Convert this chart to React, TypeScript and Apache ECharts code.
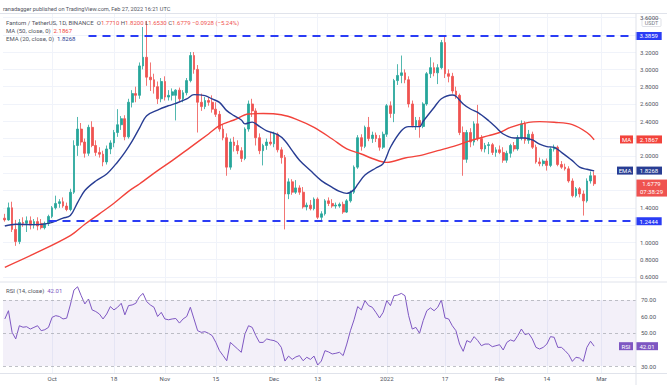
import { useEffect, useRef } from 'react';
import * as echarts from 'echarts';

const FONT = "Roboto, 'Noto Sans', 'DejaVu Sans', sans-serif";
const TEXT = '#50535e';
const UP = '#26a69a';
const DOWN = '#ef5350';
const MA_RED = '#f2433b';
const EMA_BLUE = '#283d93';
const RAY_BLUE = '#2a3cf5';
const RSI_PURPLE = '#7e57c2';
const GRID = '#f0f3fa';
const BORDER = '#e0e3eb';

// one category per day; the axis runs past the last candle into March (right padding)
const firstDay = '2021-09-18';
const dayCount = 174;

// FTM/USDT daily candles [open, high, low, close], 2021-09-18 .. 2022-02-27
const ohlc: [number, number, number, number][] = [
  [1.28, 1.33, 1.24, 1.26], [1.26, 1.46, 1.25, 1.40], [1.40, 1.47, 1.12, 1.15], [1.15, 1.26, 0.96, 1.01],
  [1.01, 1.27, 0.98, 1.23], [1.23, 1.29, 1.18, 1.22], [1.22, 1.30, 1.12, 1.25], [1.25, 1.30, 1.15, 1.20],
  [1.20, 1.27, 1.16, 1.24], [1.24, 1.29, 1.14, 1.19], [1.22, 1.27, 1.15, 1.17], [1.17, 1.24, 1.15, 1.22],
  [1.22, 1.32, 1.19, 1.30], [1.30, 1.42, 1.28, 1.40], [1.40, 1.54, 1.38, 1.45], [1.45, 1.50, 1.40, 1.47],
  [1.47, 1.52, 1.40, 1.42], [1.42, 1.46, 1.36, 1.38], [1.38, 1.62, 1.36, 1.58], [1.58, 2.18, 1.56, 2.12],
  [2.12, 2.45, 2.00, 2.31], [2.31, 2.38, 2.12, 2.16], [2.16, 2.20, 1.98, 2.03], [2.03, 2.36, 2.00, 2.33],
  [2.33, 2.40, 2.10, 2.12], [2.12, 2.18, 2.00, 2.04], [2.04, 2.10, 1.98, 2.02], [2.02, 2.06, 1.88, 1.93],
  [1.93, 2.12, 1.90, 2.08], [2.08, 2.18, 2.02, 2.15], [2.15, 2.30, 2.10, 2.27], [2.27, 2.54, 2.22, 2.36],
  [2.36, 2.46, 2.30, 2.43], [2.43, 2.47, 2.18, 2.22], [2.22, 2.66, 2.20, 2.62], [2.62, 2.76, 2.56, 2.72],
  [2.72, 2.80, 2.62, 2.70], [2.70, 3.08, 2.66, 3.04], [3.04, 3.49, 3.00, 3.14], [3.14, 3.56, 2.81, 2.91],
  [2.91, 3.08, 2.75, 2.88], [2.88, 2.95, 2.72, 2.80], [2.80, 2.86, 2.60, 2.66], [2.66, 2.90, 2.62, 2.86],
  [2.86, 2.92, 2.64, 2.68], [2.68, 2.76, 2.64, 2.70], [2.70, 2.78, 2.64, 2.74], [2.70, 2.77, 2.41, 2.76],
  [2.76, 2.79, 2.62, 2.66], [2.66, 2.76, 2.62, 2.73], [2.73, 2.90, 2.70, 2.87], [2.87, 3.20, 2.85, 3.16],
  [3.16, 3.20, 2.95, 3.00], [3.00, 3.05, 2.27, 2.62], [2.62, 2.72, 2.52, 2.57], [2.57, 2.68, 2.54, 2.64],
  [2.64, 2.68, 2.58, 2.62], [2.62, 2.70, 2.50, 2.54], [2.54, 2.62, 2.45, 2.48], [2.48, 2.52, 2.28, 2.31],
  [2.31, 2.36, 2.18, 2.21], [2.21, 2.26, 1.77, 1.87], [1.87, 2.20, 1.84, 2.16], [2.16, 2.22, 2.05, 2.12],
  [2.12, 2.18, 2.02, 2.06], [2.06, 2.10, 1.93, 1.97], [1.97, 2.33, 1.95, 2.31], [2.31, 2.64, 2.28, 2.60],
  [2.60, 2.66, 2.45, 2.52], [2.52, 2.55, 2.12, 2.21], [2.21, 2.26, 2.02, 2.06], [2.06, 2.14, 1.89, 2.12],
  [2.12, 2.20, 2.07, 2.16], [2.16, 2.27, 2.12, 2.14], [2.14, 2.28, 2.10, 2.25], [2.25, 2.27, 2.04, 2.07],
  [2.07, 2.10, 1.91, 1.98], [1.98, 2.01, 1.15, 1.56], [1.56, 1.74, 1.50, 1.70], [1.70, 1.73, 1.55, 1.58],
  [1.58, 1.72, 1.56, 1.63], [1.63, 1.66, 1.55, 1.58], [1.58, 1.64, 1.39, 1.41], [1.41, 1.46, 1.37, 1.43],
  [1.43, 1.49, 1.37, 1.39], [1.39, 1.52, 1.37, 1.50], [1.50, 1.52, 1.27, 1.29], [1.29, 1.36, 1.25, 1.33],
  [1.33, 1.50, 1.31, 1.48], [1.48, 1.52, 1.42, 1.45], [1.45, 1.50, 1.40, 1.42], [1.42, 1.46, 1.39, 1.43],
  [1.42, 1.46, 1.40, 1.44], [1.44, 1.47, 1.33, 1.35], [1.35, 1.50, 1.34, 1.48], [1.48, 1.60, 1.46, 1.58],
  [1.58, 1.89, 1.56, 1.87], [1.87, 2.24, 1.85, 2.21], [2.21, 2.25, 2.06, 2.11], [2.11, 2.35, 2.09, 2.33],
  [2.33, 2.45, 2.17, 2.20], [2.20, 2.28, 2.15, 2.24], [2.24, 2.27, 2.16, 2.20], [2.20, 2.24, 2.06, 2.10],
  [2.10, 2.28, 2.08, 2.25], [2.25, 2.60, 2.22, 2.58], [2.58, 2.63, 2.44, 2.49], [2.49, 2.89, 2.39, 2.87],
  [2.87, 3.06, 2.82, 2.93], [2.93, 3.16, 2.84, 2.96], [2.96, 3.00, 2.84, 2.88], [2.88, 2.92, 2.56, 2.60],
  [2.60, 2.64, 2.33, 2.35], [2.35, 2.45, 2.30, 2.41], [2.41, 2.45, 2.21, 2.34], [2.34, 2.62, 2.32, 2.60],
  [2.60, 2.97, 2.58, 2.95], [2.95, 3.14, 2.90, 3.02], [3.02, 3.08, 2.92, 2.96], [2.96, 3.06, 2.83, 3.02],
  [3.02, 3.34, 3.00, 3.31], [3.31, 3.38, 2.90, 2.95], [2.95, 3.00, 2.85, 2.92], [2.92, 2.96, 2.72, 2.75],
  [2.75, 2.80, 2.66, 2.70], [2.70, 2.72, 2.24, 2.27], [2.27, 2.34, 1.77, 1.96], [1.96, 2.30, 1.92, 2.27],
  [2.27, 2.32, 2.10, 2.16], [2.16, 2.40, 2.12, 2.37], [2.37, 2.59, 2.17, 2.20], [2.20, 2.24, 2.05, 2.08],
  [2.08, 2.15, 2.04, 2.12], [2.12, 2.16, 2.02, 2.13], [2.13, 2.15, 2.01, 2.04], [2.04, 2.10, 1.99, 2.07],
  [2.07, 2.12, 2.02, 2.04], [2.04, 2.10, 1.92, 1.95], [1.95, 2.06, 1.92, 2.03], [2.03, 2.14, 1.98, 2.12],
  [2.12, 2.16, 2.05, 2.08], [2.08, 2.24, 2.06, 2.21], [2.21, 2.41, 2.18, 2.37], [2.37, 2.40, 2.14, 2.18],
  [2.18, 2.30, 2.14, 2.25], [2.25, 2.28, 2.08, 2.10], [2.10, 2.13, 1.91, 1.93], [1.93, 1.98, 1.88, 1.91],
  [1.91, 1.96, 1.88, 1.94], [1.94, 1.97, 1.83, 1.89], [1.89, 2.10, 1.87, 2.08], [2.08, 2.13, 2.05, 2.10],
  [2.10, 2.12, 1.88, 1.90], [1.90, 1.94, 1.85, 1.87], [1.87, 1.91, 1.83, 1.85], [1.85, 1.88, 1.69, 1.71],
  [1.71, 1.74, 1.52, 1.54], [1.54, 1.64, 1.52, 1.62], [1.62, 1.64, 1.52, 1.56], [1.56, 1.60, 1.31, 1.48],
  [1.48, 1.74, 1.46, 1.71], [1.71, 1.82, 1.68, 1.77], [1.771, 1.82, 1.653, 1.6779],
];

// MA (50, close)
const sma50Points: [string, number][] = [
  ['2021-09-18', 0.712], ['2021-09-26', 0.866], ['2021-10-06', 1.078], ['2021-10-10', 1.21],
  ['2021-10-14', 1.33], ['2021-10-18', 1.452], ['2021-10-22', 1.59], ['2021-10-25', 1.675],
  ['2021-10-30', 1.829], ['2021-11-03', 1.945], ['2021-11-08', 2.099], ['2021-11-13', 2.253],
  ['2021-11-16', 2.349], ['2021-11-20', 2.415], ['2021-11-24', 2.484], ['2021-11-28', 2.49],
  ['2021-12-03', 2.476], ['2021-12-07', 2.426], ['2021-12-12', 2.33], ['2021-12-17', 2.195],
  ['2021-12-21', 2.08], ['2021-12-25', 2.022], ['2021-12-28', 1.97], ['2022-01-01', 1.925],
  ['2022-01-06', 1.976], ['2022-01-10', 2.003], ['2022-01-15', 2.06], ['2022-01-20', 2.118],
  ['2022-01-24', 2.176], ['2022-01-29', 2.234], ['2022-02-01', 2.27], ['2022-02-04', 2.33],
  ['2022-02-09', 2.388], ['2022-02-12', 2.396], ['2022-02-16', 2.388], ['2022-02-21', 2.361],
  ['2022-02-25', 2.27], ['2022-02-27', 2.1867],
];

// EMA (20, close)
const ema20Points: [string, number][] = [
  ['2021-09-18', 1.19], ['2021-09-21', 1.21], ['2021-09-26', 1.205], ['2021-09-30', 1.22],
  ['2021-10-04', 1.28], ['2021-10-06', 1.31], ['2021-10-08', 1.46], ['2021-10-10', 1.60],
  ['2021-10-13', 1.71], ['2021-10-16', 1.79], ['2021-10-19', 1.93], ['2021-10-21', 2.04],
  ['2021-10-23', 2.17], ['2021-10-25', 2.32], ['2021-10-27', 2.465], ['2021-10-30', 2.53],
  ['2021-11-02', 2.58], ['2021-11-04', 2.607], ['2021-11-07', 2.658], ['2021-11-09', 2.708],
  ['2021-11-12', 2.696], ['2021-11-14', 2.658], ['2021-11-16', 2.619], ['2021-11-18', 2.523],
  ['2021-11-20', 2.465], ['2021-11-22', 2.415], ['2021-11-23', 2.37], ['2021-11-25', 2.39],
  ['2021-11-27', 2.34], ['2021-11-29', 2.29], ['2021-12-02', 2.245], ['2021-12-04', 2.176],
  ['2021-12-06', 2.06], ['2021-12-08', 1.95], ['2021-12-11', 1.83], ['2021-12-14', 1.714],
  ['2021-12-17', 1.636], ['2021-12-19', 1.59], ['2021-12-21', 1.567], ['2021-12-23', 1.61],
  ['2021-12-24', 1.67], ['2021-12-26', 1.78], ['2021-12-29', 1.86], ['2021-12-31', 1.91],
  ['2022-01-02', 2.10], ['2022-01-05', 2.29], ['2022-01-07', 2.338], ['2022-01-10', 2.338],
  ['2022-01-11', 2.40], ['2022-01-14', 2.56], ['2022-01-16', 2.66], ['2022-01-19', 2.704],
  ['2022-01-20', 2.69], ['2022-01-22', 2.60], ['2022-01-24', 2.542], ['2022-01-26', 2.503],
  ['2022-01-29', 2.407], ['2022-01-31', 2.33], ['2022-02-02', 2.253], ['2022-02-05', 2.207],
  ['2022-02-08', 2.207], ['2022-02-10', 2.184], ['2022-02-12', 2.137], ['2022-02-14', 2.107],
  ['2022-02-16', 2.099], ['2022-02-18', 2.041], ['2022-02-21', 1.945], ['2022-02-23', 1.87],
  ['2022-02-25', 1.845], ['2022-02-27', 1.8268],
];

// RSI (14, close), one value per candle
const rsi14: number[] = [
  58.5, 63.5, 50.4, 46.4, 54.4, 53.5, 53.8, 52.4, 53.4, 54.4,
  51.4, 52, 53.4, 59.5, 60.5, 60, 58.5, 59, 67, 76,
  78, 72.6, 67.6, 70.6, 64, 63, 61.5, 58.5, 61.5, 66,
  64, 65.6, 68, 61, 66.6, 67, 68, 72, 74, 69,
  67, 65.6, 60, 62.5, 58.5, 58, 58.5, 58.8, 56, 58.5,
  60, 65.6, 58.5, 51.4, 50.4, 50.8, 49.8, 48.4, 44.3, 39.3,
  36.3, 33.2, 44.3, 42.3, 40.3, 38.3, 49.4, 54.4, 53.4, 48.4,
  44.3, 44.3, 46.4, 45.8, 45.4, 44.3, 41.3, 33, 36, 34,
  35.5, 36.3, 33.2, 35.3, 34, 36, 30.6, 33, 39.3, 38.5,
  37.3, 37.7, 38.3, 36.3, 43.3, 51.4, 58, 66, 64, 69.6,
  66.6, 65.6, 62.5, 59.1, 62.5, 69.6, 66.6, 72.6, 73, 74,
  72.6, 60.5, 52.4, 53.4, 49.8, 57.5, 63.5, 65.2, 63.5, 65.6,
  70, 59.1, 58.5, 54.4, 51.4, 43.3, 38.9, 45.4, 44.3, 47.8,
  45.4, 42.3, 43.3, 43.3, 41.7, 42.3, 42.9, 39.7, 44.3, 45.8,
  45, 48.4, 52.4, 49, 49.8, 46.4, 41.3, 40.3, 41.3, 43.3,
  47.8, 47.4, 41.3, 41.3, 39.3, 36.9, 32.8, 35.3, 34.8, 32.8,
  41.3, 45, 42.01,
];

// drawn horizontal rays
const resistance = 3.3859;
const resistanceFrom = '2021-10-11';
const support = 1.2444;
const supportFrom = '2021-09-30';

// last values shown in the legend / axis boxes
const lastMA = 2.1867;
const lastEMA = 1.8268;
const lastRSI = 42.01;
const lastClose = 1.6779;
const countdown = '07:38:29';
const legendOHLC = ['1.7710', '1.8200', '1.6530', '1.6779'];
const legendChange = '−0.0928 (−5.24%)';

// axes
const priceMin = 0.542;
const priceMax = 3.6402;
const priceTicks = [0.6, 0.8, 1.0, 1.2, 1.4, 1.6, 1.8, 2.0, 2.2, 2.4, 2.6, 2.8, 3.0, 3.2, 3.4, 3.6];
const priceLabels = [0.6, 0.8, 1.0, 1.4, 2.0, 2.4, 2.6, 2.8, 3.0, 3.2, 3.6];
const rsiMin = 25.76;
const rsiMax = 80.9;
const rsiTicks = [30, 40, 50, 60, 70];
const rsiLabels = [30, 50, 60, 70];
const rsiLevels = [70, 50, 30];
const xTickDates = ['2021-10-01', '2021-10-18', '2021-11-01', '2021-11-15', '2021-12-01', '2021-12-13',
  '2022-01-01', '2022-01-17', '2022-02-01', '2022-02-14', '2022-03-01'];
const xTickLabels = ['Oct', '18', 'Nov', '15', 'Dec', '13', '2022', '17', 'Feb', '14', 'Mar'];

function buildDates(): string[] {
  const out: string[] = [];
  const t0 = Date.parse(firstDay + 'T00:00:00Z');
  for (let k = 0; k < dayCount; k++) out.push(new Date(t0 + k * 86400000).toISOString().slice(0, 10));
  return out;
}

function box(color: string, w: number) {
  return {
    backgroundColor: color, color: '#fff', width: w, height: 8, lineHeight: 8,
    align: 'center', fontSize: 6, fontFamily: FONT,
  };
}

function tagLabel(tag: string, value: string, color: string, tagW: number, valW: number) {
  return {
    show: true, opacity: 1, position: 'end', distance: -(tagW + 3),
    formatter: `{t|${tag}}{g|}{v|${value}}`,
    rich: { t: box(color, tagW), g: { width: 3, height: 8 }, v: box(color, valW) },
  };
}

function valueLabel(value: string, color: string, w: number, distance: number) {
  return { show: true, opacity: 1, position: 'end', distance, formatter: `{v|${value}}`, rich: { v: box(color, w) } };
}

function buildOption() {
  const dates = buildDates();
  const tickSet = new Set(xTickDates);
  const tickName: Record<string, string> = {};
  xTickDates.forEach((d, k) => { tickName[d] = xTickLabels[k]; });
  const isTick = (_i: number, v: string) => tickSet.has(v);
  const lastDate = dates[dates.length - 1];
  const hidden = { color: 'rgba(0,0,0,0)', width: 0 };

  const xBase = {
    type: 'category', data: dates, boundaryGap: true,
    axisLine: { show: false }, axisTick: { show: false },
    splitLine: { show: true, interval: isTick, alignWithLabel: true, lineStyle: { color: GRID, width: 1 } },
  };

  return {
    animation: false,
    backgroundColor: '#ffffff',
    textStyle: { fontFamily: FONT },
    grid: [
      { left: 3, right: 31, top: 14, height: 268 },
      { left: 3, right: 31, top: 282, height: 91 },
    ],
    xAxis: [
      { ...xBase, gridIndex: 0, axisLabel: { show: false } },
      {
        ...xBase, gridIndex: 1,
        axisLabel: {
          show: true, interval: isTick, formatter: (v: string) => tickName[v] || '',
          color: TEXT, fontSize: 6, margin: 2, fontFamily: FONT,
        },
      },
    ],
    yAxis: [
      {
        type: 'value', gridIndex: 0, position: 'right', min: priceMin, max: priceMax, scale: true,
        axisLine: { show: false },
        axisTick: { show: false, customValues: priceTicks },
        axisLabel: { customValues: priceLabels, formatter: (v: number) => v.toFixed(4), color: TEXT, fontSize: 6, margin: 4, fontFamily: FONT },
        splitLine: { show: true, lineStyle: { color: GRID, width: 1 } },
      },
      {
        type: 'value', gridIndex: 1, position: 'right', min: rsiMin, max: rsiMax, scale: true,
        axisLine: { show: false },
        axisTick: { show: false, customValues: rsiTicks },
        axisLabel: { customValues: rsiLabels, formatter: (v: number) => v.toFixed(2), color: TEXT, fontSize: 6, margin: 5, fontFamily: FONT },
        splitLine: { show: false },
      },
    ],
    series: [
      {
        type: 'candlestick', xAxisIndex: 0, yAxisIndex: 0, barWidth: '62%',
        data: ohlc.map(([o, h, l, c]) => [o, c, l, h]),
        itemStyle: { color: UP, color0: DOWN, borderColor: UP, borderColor0: DOWN, borderWidth: 0.8 },
        markLine: {
          symbol: 'none', silent: true, animation: false,
          data: [
            [
              { xAxis: resistanceFrom, yAxis: resistance, lineStyle: { color: RAY_BLUE, width: 2, type: [8, 6] }, label: valueLabel(resistance.toFixed(4), RAY_BLUE, 26, 1.5) },
              { xAxis: lastDate, yAxis: resistance },
            ],
            [
              { xAxis: supportFrom, yAxis: support, lineStyle: { color: RAY_BLUE, width: 2, type: [8, 6] }, label: valueLabel(support.toFixed(4), RAY_BLUE, 26, 1.5) },
              { xAxis: lastDate, yAxis: support },
            ],
            {
              yAxis: lastClose, lineStyle: hidden,
              label: {
                show: true, opacity: 1, position: 'end', distance: 0, verticalAlign: 'top',
                backgroundColor: DOWN, padding: [4, 0, 1, 0],
                formatter: `{c|${countdown}}`, rich: { c: box(DOWN, 31) },
              },
            },
            { yAxis: lastClose, lineStyle: hidden, label: valueLabel(lastClose.toFixed(4), DOWN, 31, 0) },
          ],
        },
      },
      {
        type: 'line', name: 'MA', xAxisIndex: 0, yAxisIndex: 0, data: sma50Points, smooth: 0.35,
        symbol: 'none', lineStyle: { color: MA_RED, width: 1.4 }, z: 3,
        markLine: {
          symbol: 'none', silent: true,
          data: [{ yAxis: lastMA, lineStyle: hidden, label: tagLabel('MA', lastMA.toFixed(4), MA_RED, 13, 26) }],
        },
      },
      {
        type: 'line', name: 'EMA', xAxisIndex: 0, yAxisIndex: 0, data: ema20Points, smooth: 0.35,
        symbol: 'none', lineStyle: { color: EMA_BLUE, width: 1.4 }, z: 3,
        markLine: {
          symbol: 'none', silent: true,
          data: [{ yAxis: lastEMA, lineStyle: hidden, label: tagLabel('EMA', lastEMA.toFixed(4), EMA_BLUE, 16, 26) }],
        },
      },
      {
        type: 'line', name: 'RSI', xAxisIndex: 1, yAxisIndex: 1, data: rsi14,
        symbol: 'none', lineStyle: { color: RSI_PURPLE, width: 1 },
        markArea: { silent: true, itemStyle: { color: 'rgba(126,87,194,0.09)' }, data: [[{ yAxis: rsiLevels[0] }, { yAxis: rsiLevels[2] }]] },
        markLine: {
          symbol: 'none', silent: true,
          data: [
            ...rsiLevels.map((v) => ({ yAxis: v, lineStyle: { color: '#a3a6af', width: 0.7, type: [3, 3] }, label: { show: false } })),
            { yAxis: lastRSI, lineStyle: hidden, label: tagLabel('RSI', lastRSI.toFixed(2), RSI_PURPLE, 14, 22) },
          ],
        },
      },
    ],
    graphic: [
      { type: 'line', silent: true, z: 50, shape: { x1: 0, y1: 13.5, x2: 667, y2: 13.5 }, style: { stroke: BORDER, lineWidth: 1 } },
      { type: 'line', silent: true, z: 50, shape: { x1: 0, y1: 282, x2: 667, y2: 282 }, style: { stroke: BORDER, lineWidth: 1 } },
      { type: 'line', silent: true, z: 50, shape: { x1: 0, y1: 373.5, x2: 667, y2: 373.5 }, style: { stroke: BORDER, lineWidth: 1 } },
      { type: 'line', silent: true, z: 50, shape: { x1: 636, y1: 13.5, x2: 636, y2: 385 }, style: { stroke: BORDER, lineWidth: 1 } },
      {
        type: 'text', silent: true, z: 60, x: 3, y: 8.5,
        style: { text: 'ranadagger published on TradingView.com, Feb 27, 2022 16:21 UTC', fontSize: 5.6, fill: TEXT, fontFamily: FONT, verticalAlign: 'middle' },
      },
      {
        type: 'text', silent: true, z: 60, x: 6, y: 22,
        style: {
          text: `{n|Fantom / TetherUS, 1D, BINANCE}  {k|O}{r|${legendOHLC[0]}} {k|H}{r|${legendOHLC[1]}} {k|L}{r|${legendOHLC[2]}} {k|C}{r|${legendOHLC[3]}} {r|${legendChange}}`,
          verticalAlign: 'middle', fontSize: 6, fontFamily: FONT,
          rich: { n: { fill: TEXT, fontSize: 6, fontFamily: FONT }, k: { fill: TEXT, fontSize: 6, fontFamily: FONT }, r: { fill: DOWN, fontSize: 6, fontFamily: FONT } },
        },
      },
      {
        type: 'text', silent: true, z: 60, x: 6, y: 30,
        style: {
          text: `{n|MA (50, close, 0)}  {v|${lastMA.toFixed(4)}}`, verticalAlign: 'middle', fontSize: 6, fontFamily: FONT,
          rich: { n: { fill: TEXT, fontSize: 6, fontFamily: FONT }, v: { fill: MA_RED, fontSize: 6, fontFamily: FONT } },
        },
      },
      {
        type: 'text', silent: true, z: 60, x: 6, y: 38,
        style: {
          text: `{n|EMA (20, close, 0)}  {v|${lastEMA.toFixed(4)}}`, verticalAlign: 'middle', fontSize: 6, fontFamily: FONT,
          rich: { n: { fill: TEXT, fontSize: 6, fontFamily: FONT }, v: { fill: EMA_BLUE, fontSize: 6, fontFamily: FONT } },
        },
      },
      {
        type: 'text', silent: true, z: 60, x: 6, y: 290,
        style: {
          text: `{n|RSI (14, close)}  {v|${lastRSI.toFixed(2)}}`, verticalAlign: 'middle', fontSize: 6, fontFamily: FONT,
          rich: { n: { fill: TEXT, fontSize: 6, fontFamily: FONT }, v: { fill: RSI_PURPLE, fontSize: 6, fontFamily: FONT } },
        },
      },
      {
        type: 'group', z: 60, silent: true, children: [
          { type: 'rect', shape: { x: 642, y: 18.5, width: 19, height: 8, r: 1 }, style: { fill: '#fff', stroke: '#d1d4dc', lineWidth: 0.7 } },
          { type: 'text', x: 651.5, y: 22.5, style: { text: 'USDT', fontSize: 5.5, fill: '#787b86', fontFamily: FONT, align: 'center', verticalAlign: 'middle' } },
        ],
      },
    ],
  };
}

export default function App() {
  const ref = useRef<HTMLDivElement>(null);
  useEffect(() => {
    const chart = echarts.init(ref.current as HTMLDivElement, undefined, { renderer: 'svg' });
    chart.setOption(buildOption() as any);
    return () => chart.dispose();
  }, []);
  return <div ref={ref} style={{ position: 'fixed', left: 0, top: 0, width: 667, height: 385, background: '#fff' }} />;
}
